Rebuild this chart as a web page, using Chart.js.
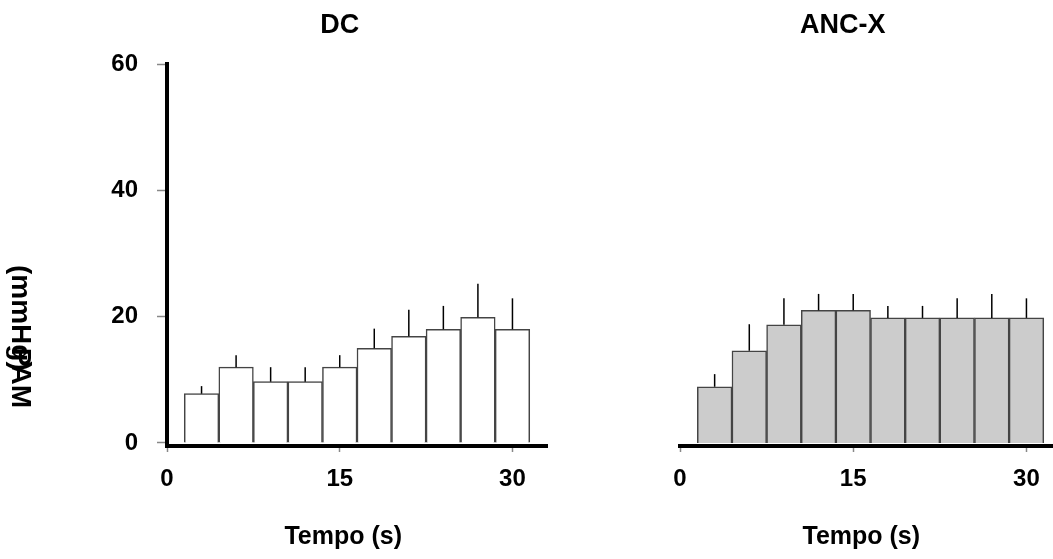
<!DOCTYPE html>
<html>
<head>
<meta charset="utf-8">
<script src="https://cdn.jsdelivr.net/npm/chart.js@4.4.1/dist/chart.umd.min.js"></script>
<style>
  body { margin: 0; background: #fff; }
  #wrap { position: relative; width: 1053px; height: 559px; }
  canvas { position: absolute; top: 0; }
</style>
</head>
<body>
<div id="wrap">
  <canvas id="dc-chart" width="600" height="559" style="left:0"></canvas>
  <canvas id="anc-chart" width="453" height="559" style="left:600px"></canvas>
</div>
<script>
// tempo (s) de cada barra
var tempos = [3, 6, 9, 12, 15, 18, 21, 24, 27, 30];
// PAM media e erro (so a parte de cima) - DC
var dcMedia = [7.8, 12, 9.7, 9.7, 12, 15, 16.9, 18, 19.9, 18];
var dcErro = [1.2, 1.9, 2.3, 2.3, 1.9, 3.1, 4.2, 3.7, 5.3, 4.9];
// ANC-X
var ancMedia = [8.9, 14.6, 18.7, 21, 21, 19.8, 19.8, 19.8, 19.8, 19.8];
var ancErro = [2.0, 4.2, 4.2, 2.6, 2.6, 1.9, 1.9, 3.1, 3.8, 3.1];
var xTicks = [0, 15, 30];
var yTicks = [0, 20, 40, 60];

var fonte = "'Liberation Sans', Arial, sans-serif";

function pontos(medias) {
  return tempos.map(function(t, i) { return { x: t, y: medias[i] }; });
}

// linha de erro (so pra cima, sem "chapeu")
var erroPlugin = {
  id: 'erro',
  afterDatasetsDraw: function(chart, args, opts) {
    var ctx = chart.ctx;
    var yScale = chart.scales.y;
    var meta = chart.getDatasetMeta(0);
    ctx.save();
    ctx.strokeStyle = '#000';
    ctx.lineWidth = 1.5;
    meta.data.forEach(function(bar, i) {
      var topo = yScale.getPixelForValue(opts.medias[i] + opts.erros[i]);
      ctx.beginPath();
      ctx.moveTo(bar.x, bar.y);
      ctx.lineTo(bar.x, topo);
      ctx.stroke();
    });
    ctx.restore();
  }
};

// titulos desenhados a mao
var textosPlugin = {
  id: 'textos',
  afterDraw: function(chart, args, opts) {
    var ctx = chart.ctx;
    var xScale = chart.scales.x;
    ctx.save();
    ctx.fillStyle = '#000';
    ctx.textBaseline = 'alphabetic';
    ctx.textAlign = 'center';
    ctx.font = 'bold 27px ' + fonte;
    ctx.fillText(opts.titulo, xScale.getPixelForValue(opts.tituloX), 33);
    ctx.font = 'bold 25px ' + fonte;
    ctx.fillText('Tempo (s)', xScale.getPixelForValue(opts.eixoX), 544);
    if (opts.eixoY) {
      ctx.font = 'bold 28px ' + fonte;
      ctx.save();
      ctx.translate(12, 265);
      ctx.rotate(Math.PI / 2);
      ctx.textAlign = 'left';
      ctx.fillText('(mmHg)', 0, 0);
      ctx.restore();
      ctx.save();
      ctx.translate(12, 408);
      ctx.rotate(Math.PI / 2);
      ctx.textAlign = 'right';
      ctx.fillText('PAM', 0, 0);
      ctx.restore();
    }
    ctx.restore();
  }
};

function criaGrafico(id, medias, erros, cor, cfg) {
  return new Chart(document.getElementById(id), {
    type: 'bar',
    data: {
      datasets: [{
        data: pontos(medias),
        backgroundColor: cor,
        borderColor: '#444',
        borderWidth: 1.5,
        barPercentage: 1,
        categoryPercentage: 1
      }]
    },
    options: {
      responsive: false,
      animation: false,
      layout: { padding: { left: cfg.padLeft, right: cfg.padRight, top: 64, bottom: 0 } },
      plugins: {
        legend: { display: false },
        tooltip: { enabled: false },
        erro: { medias: medias, erros: erros },
        textos: { titulo: cfg.titulo, tituloX: cfg.tituloX, eixoX: cfg.eixoX, eixoY: cfg.eixoY }
      },
      scales: {
        x: {
          type: 'linear',
          offset: false,
          min: 0,
          max: cfg.xMax,
          afterFit: function(s) { s.height = 113; s.paddingLeft = 0; s.paddingRight = 0; },
          afterBuildTicks: function(s) { s.ticks = xTicks.map(function(v) { return { value: v }; }); },
          grid: { display: true, drawOnChartArea: false, offset: false, tickLength: 6, tickWidth: 1.5, color: '#888' },
          border: { display: true, width: 4, color: '#000' },
          ticks: { color: '#000', padding: 13, maxRotation: 0, font: { family: fonte, size: 24, weight: 'bold' } }
        },
        y: {
          display: cfg.eixoY,
          min: -0.48,
          max: 60,
          afterFit: function(s) { s.width = cfg.yLargura; },
          afterBuildTicks: function(s) { s.ticks = yTicks.map(function(v) { return { value: v }; }); },
          grid: { display: true, drawOnChartArea: false, tickLength: 10, tickWidth: 1.5, color: '#888' },
          border: { display: true, width: 4, color: '#000' },
          ticks: { color: '#000', padding: 19, font: { family: fonte, size: 24, weight: 'bold' } }
        }
      }
    },
    plugins: [erroPlugin, textosPlugin]
  });
}

document.addEventListener("DOMContentLoaded", function() {
  criaGrafico('dc-chart', dcMedia, dcErro, '#ffffff',
    { titulo: 'DC', tituloX: 15, eixoX: 15.3, eixoY: true, xMax: 33, padLeft: 0, padRight: 53, yLargura: 167 });
  criaGrafico('anc-chart', ancMedia, ancErro, '#cccccc',
    { titulo: 'ANC-X', tituloX: 14.1, eixoX: 15.7, eixoY: false, xMax: 32.3, padLeft: 80, padRight: 0, yLargura: 0 });
});
</script>
</body>
</html>
